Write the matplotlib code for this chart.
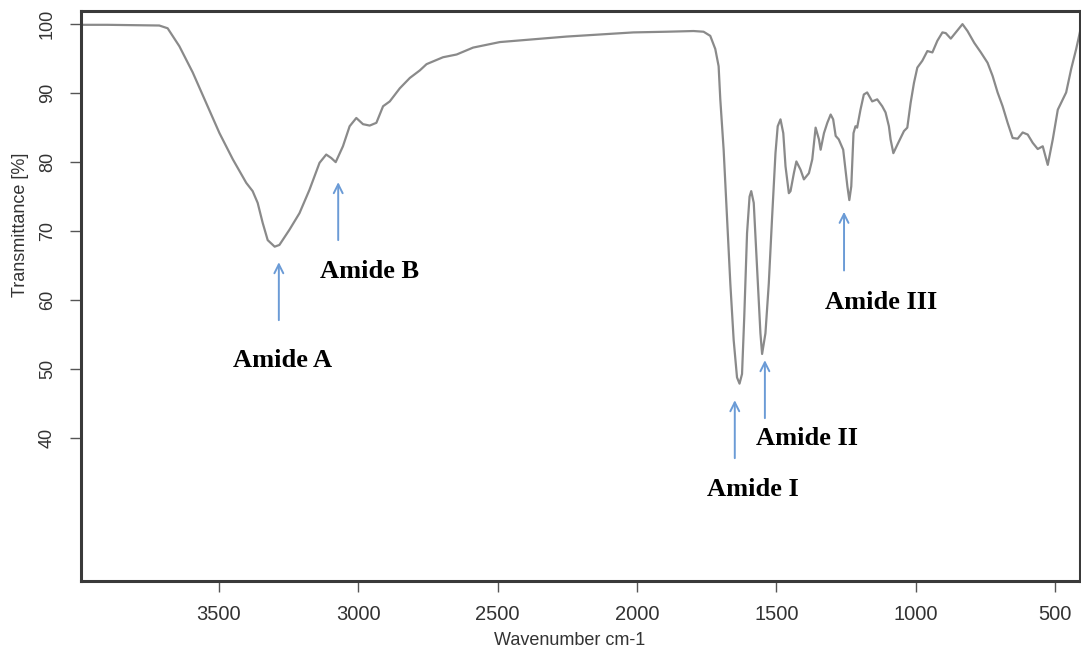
import numpy as np
import matplotlib
matplotlib.use("Agg")
import matplotlib.pyplot as plt

# FTIR spectrum (wavenumber cm-1, transmittance %)
wavenumber = [3995, 3900, 3800, 3714, 3684, 3642, 3594, 3546, 3498, 3450,
              3402, 3379, 3361, 3343, 3325, 3300, 3283, 3247, 3211, 3175,
              3139, 3115, 3097, 3081, 3055, 3031, 3007, 2983, 2959, 2935,
              2911, 2887, 2851, 2815, 2779, 2755, 2696, 2647, 2588, 2492,
              2372, 2252, 2132, 2013, 1893, 1797, 1761, 1737, 1719, 1707,
              1701, 1689, 1677, 1665, 1653, 1641, 1632, 1623, 1615, 1605,
              1596, 1590, 1581, 1569, 1557, 1551, 1539, 1527, 1515, 1503,
              1495, 1485, 1475, 1467, 1455, 1449, 1437, 1428, 1413, 1401,
              1383, 1371, 1359, 1347, 1341, 1329, 1317, 1305, 1296, 1287,
              1276, 1260, 1245, 1238, 1231, 1223, 1216, 1210, 1198, 1186,
              1174, 1156, 1138, 1120, 1108, 1096, 1090, 1080, 1066, 1042,
              1030, 1018, 1006, 994, 976, 958, 940, 922, 904, 892,
              874, 856, 832, 814, 790, 766, 742, 724, 706, 688,
              670, 652, 634, 616, 598, 580, 562, 544, 526, 508,
              490, 472, 460, 442, 424, 407]
transmittance = [99.9, 99.9, 99.85, 99.8, 99.4, 96.8, 93.0, 88.6, 84.2, 80.4,
                 77.0, 75.8, 74.1, 71.2, 68.7, 67.75, 68.0, 70.2, 72.6, 76.0,
                 79.9, 81.1, 80.6, 80.0, 82.3, 85.2, 86.4, 85.5, 85.3, 85.7,
                 88.1, 88.8, 90.7, 92.2, 93.3, 94.2, 95.2, 95.6, 96.6, 97.4,
                 97.8, 98.2, 98.5, 98.8, 98.9, 99.0, 98.9, 98.3, 96.4, 93.9,
                 89.1, 81.8, 72.1, 62.4, 54.2, 48.8, 47.9, 49.3, 57.6, 69.7,
                 75.0, 75.8, 74.1, 64.8, 55.2, 52.2, 55.2, 62.4, 72.1, 81.3,
                 85.2, 86.2, 84.2, 79.4, 75.5, 75.8, 78.4, 80.1, 78.9, 77.5,
                 78.4, 80.4, 85.0, 83.3, 81.8, 84.2, 85.7, 86.9, 86.2, 83.8,
                 83.3, 81.8, 76.5, 74.5, 76.5, 84.2, 85.2, 85.0, 87.6, 89.8,
                 90.1, 88.8, 89.1, 88.1, 87.2, 85.2, 83.3, 81.3, 82.5, 84.5,
                 85.0, 88.6, 91.5, 93.7, 94.7, 96.1, 95.9, 97.6, 98.8, 98.7,
                 97.9, 98.8, 100.0, 99.0, 97.3, 95.9, 94.4, 92.5, 90.1, 88.1,
                 85.7, 83.5, 83.4, 84.3, 84.0, 82.8, 81.9, 82.3, 79.6, 83.3,
                 87.6, 89.1, 90.1, 93.5, 96.4, 99.5]

x_ticks = [3500, 3000, 2500, 2000, 1500, 1000, 500]
y_ticks = [40, 50, 60, 70, 80, 90, 100]

# band annotations: label, arrow x, arrow head y, arrow tail y, label x, label y
band_names = ["Amide A", "Amide B", "Amide I", "Amide II", "Amide III"]
band_x = [3285, 3072, 1649, 1541, 1257]
head_y = [65.5, 77.1, 45.5, 51.3, 72.8]
tail_y = [57.1, 68.7, 37.1, 42.9, 64.3]
label_x = [3272, 2958, 1584, 1390, 1125]
label_y = [51.3, 64.2, 32.5, 39.9, 59.7]

fig = plt.figure(figsize=(10.81, 6.52), dpi=100)
ax = fig.add_axes([0.0749, 0.1089, 0.924, 0.8742])

ax.plot(wavenumber, transmittance, color="#8a8a8a", lw=1.6)

ax.set_xlim(3995, 411)
ax.set_ylim(19.3, 101.9)
ax.set_xticks(x_ticks)
ax.set_yticks(y_ticks)

for s in ax.spines.values():
    s.set_color("#3a3a3a")
    s.set_linewidth(2.2)

ax.tick_params(axis="x", length=8, width=1, color="#555555", pad=9,
               labelsize=14.5, labelcolor="#333333")
ax.tick_params(axis="y", length=8, width=1, color="#555555", pad=10,
               labelsize=13, labelcolor="#333333")
for lab in ax.get_xticklabels() + ax.get_yticklabels():
    lab.set_family("Liberation Sans")
plt.setp(ax.get_yticklabels(), rotation=90, va="center")

fig.text(0.5265, 0.018, "Wavenumber cm-1", ha="center", va="center",
         fontsize=13, color="#333333", family="Liberation Sans")
fig.text(0.019, 0.655, "Transmittance [%]", ha="center", va="center",
         rotation=90, fontsize=13, color="#333333", family="Liberation Sans")

for name, bx, hy, ty, lx, ly in zip(band_names, band_x, head_y, tail_y,
                                     label_x, label_y):
    ax.annotate("", xy=(bx, hy), xytext=(bx, ty),
                arrowprops=dict(arrowstyle="->", color="#6b9bd6", lw=1.4,
                                mutation_scale=16, shrinkA=0, shrinkB=0))
    ax.text(lx, ly, name, ha="center", va="center", fontsize=19,
            fontweight="bold", family="Liberation Serif", color="black")

fig.savefig("out.png", dpi=100)
